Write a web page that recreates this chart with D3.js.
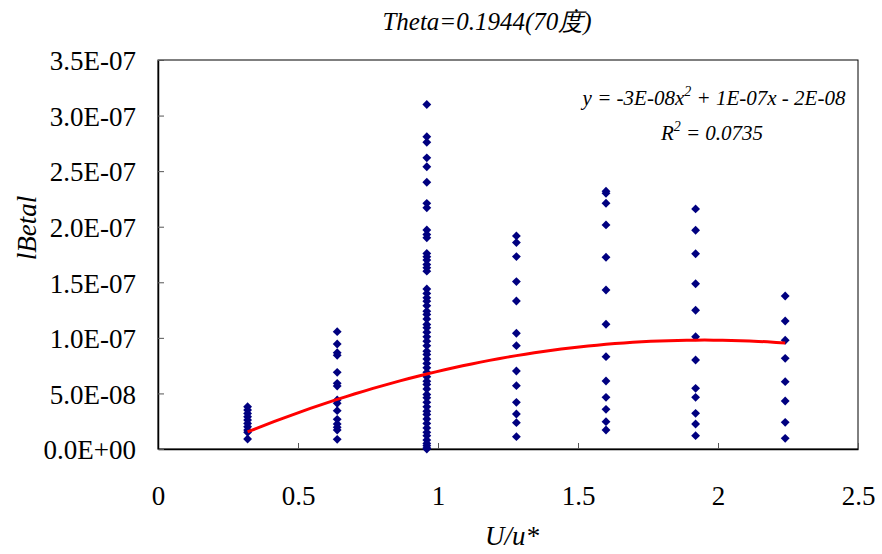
<!DOCTYPE html>
<html>
<head>
<meta charset="utf-8">
<script src="https://cdn.jsdelivr.net/npm/d3@7"></script>
<style>
  body { margin: 0; background: #fff; }
</style>
</head>
<body>
<script>
// U/u* groups and the |Beta| readings at each one (units of 1E-07)
var uGroups = [0.32, 0.64, 0.96, 1.28, 1.60, 1.92, 2.24];
var beta032 = [0.38, 0.35, 0.32, 0.29, 0.26, 0.23, 0.20, 0.17, 0.15, 0.09];
var beta064 = [1.056, 0.945, 0.867, 0.843, 0.690, 0.591, 0.567, 0.441, 0.411, 0.345, 0.267, 0.225, 0.195, 0.171, 0.087];
var beta096 = [3.10, 2.81, 2.76, 2.62, 2.54, 2.40, 2.21, 2.17, 1.97, 1.93, 1.90, 1.76, 1.73, 1.70, 1.66, 1.63, 1.60,
               1.44, 1.40, 1.36, 1.33, 1.29, 1.24, 1.21, 1.17, 1.12, 1.09, 1.05, 1.01, 0.97, 0.93, 0.88, 0.85, 0.81,
               0.77, 0.73, 0.69, 0.65, 0.61, 0.58, 0.54, 0.49, 0.46, 0.42, 0.38, 0.34, 0.31, 0.27, 0.23, 0.19, 0.15,
               0.12, 0.08, 0.05, 0.03, 0.01, 0.00];
var beta128 = [1.917, 1.857, 1.731, 1.506, 1.332, 1.041, 0.930, 0.702, 0.570, 0.420, 0.315, 0.237, 0.111];
var beta160 = [2.32, 2.30, 2.211, 2.016, 1.725, 1.431, 1.122, 0.831, 0.612, 0.465, 0.357, 0.246, 0.171];
var beta192 = [2.160, 1.968, 1.757, 1.487, 1.248, 1.010, 0.801, 0.546, 0.465, 0.321, 0.225, 0.120];
var beta224 = [1.377, 1.152, 0.978, 0.816, 0.606, 0.432, 0.240, 0.096];
var betaUnit = 1e-7;

// polynomial trendline (order 2)
var trendCoef = [-3.11e-8, 1.213e-7, -2.03e-8];   // a, b, c
var trendLabel = "y = -3E-08x", trendLabel2 = " + 1E-07x - 2E-08";
var r2Label = " = 0.0735";

var xTicks = [0, 0.5, 1, 1.5, 2, 2.5];
var xTickLabels = ["0", "0.5", "1", "1.5", "2", "2.5"];
var yTicks = [0, 0.5e-7, 1e-7, 1.5e-7, 2e-7, 2.5e-7, 3e-7, 3.5e-7];
var yTickLabels = ["0.0E+00", "5.0E-08", "1.0E-07", "1.5E-07", "2.0E-07", "2.5E-07", "3.0E-07", "3.5E-07"];

var chartTitle = "Theta=0.1944(70度)";
var xTitle = "U/u*", yTitle = "lBetal";

var width = 882, height = 554;
var plot = {left: 158, top: 60, right: 858, bottom: 449};
var serif = "Liberation Serif";

var svg = d3.select("body").append("svg")
    .attr("width", width)
    .attr("height", height);

var x = d3.scaleLinear().domain([0, 2.5]).range([plot.left, plot.right]);
var y = d3.scaleLinear().domain([0, 3.5e-7]).range([plot.bottom, plot.top]);

// build point list from the groups
var groups = [beta032, beta064, beta096, beta128, beta160, beta192, beta224];
var points = [];
groups.forEach(function(vals, i) {
  vals.forEach(function(v) { points.push({u: uGroups[i], beta: v * betaUnit}); });
});

// frame
svg.append("rect")
  .attr("x", plot.left).attr("y", plot.top)
  .attr("width", plot.right - plot.left).attr("height", plot.bottom - plot.top)
  .attr("fill", "#fff").attr("stroke", "#000").attr("stroke-width", 1);

// axes (ticks point inward)
var xAxis = d3.axisBottom(x).tickValues(xTicks)
    .tickFormat(function(d, i) { return xTickLabels[i]; })
    .tickSizeInner(-6).tickSizeOuter(0).tickPadding(39);
var gx = svg.append("g").attr("transform", "translate(0," + plot.bottom + ")").call(xAxis)
    .attr("font-family", serif).attr("font-size", 27);
gx.select(".domain").attr("stroke-width", 1.5);
gx.selectAll(".tick line").attr("stroke", "#555");
gx.selectAll(".tick text").attr("font-family", serif).attr("dy", "0.62em");

var yAxis = d3.axisLeft(y).tickValues(yTicks)
    .tickFormat(function(d, i) { return yTickLabels[i]; })
    .tickSizeInner(-6).tickSizeOuter(0).tickPadding(22);
var gy = svg.append("g").attr("transform", "translate(" + plot.left + ",0)").call(yAxis)
    .attr("font-family", serif).attr("font-size", 27);
gy.select(".domain").attr("stroke-width", 1.5);
gy.selectAll(".tick line").attr("stroke", "#555");
gy.selectAll(".tick text").attr("font-family", serif).attr("dy", "0.36em");

// scatter
var diamond = d3.symbol().type(d3.symbolDiamond2).size(50);
svg.append("g").selectAll("path")
  .data(points)
  .enter()
  .append("path")
  .attr("d", diamond)
  .attr("fill", "#000080")
  .attr("transform", function(d) { return "translate(" + x(d.u) + "," + y(d.beta) + ")"; });

// trendline over the data range
var uMin = d3.min(uGroups), uMax = d3.max(uGroups);
var trendPts = d3.range(0, 61).map(function(i) {
  var u = uMin + (uMax - uMin) * i / 60;
  return [u, trendCoef[0] * u * u + trendCoef[1] * u + trendCoef[2]];
});
svg.append("path")
  .datum(trendPts)
  .attr("fill", "none")
  .attr("stroke", "#ff0000")
  .attr("stroke-width", 3)
  .attr("d", d3.line().x(function(d) { return x(d[0]); }).y(function(d) { return y(d[1]); }));

// equation labels
var eq = svg.append("text")
  .attr("x", 714).attr("y", 105)
  .attr("text-anchor", "middle")
  .attr("font-family", serif)
  .attr("font-size", 21).attr("font-style", "italic");
eq.append("tspan").text(trendLabel);
eq.append("tspan").attr("font-size", 14).attr("dy", -9).text("2");
eq.append("tspan").attr("dy", 9).text(trendLabel2);

var r2 = svg.append("text")
  .attr("x", 712).attr("y", 140)
  .attr("text-anchor", "middle")
  .attr("font-family", serif)
  .attr("font-size", 21).attr("font-style", "italic");
r2.append("tspan").text("R");
r2.append("tspan").attr("font-size", 14).attr("dy", -9).text("2");
r2.append("tspan").attr("dy", 9).text(r2Label);

// titles
svg.append("text")
  .attr("x", 487).attr("y", 30)
  .attr("text-anchor", "middle")
  .attr("font-family", serif)
  .attr("font-size", 25).attr("font-style", "italic")
  .text(chartTitle);

svg.append("text")
  .attr("x", 512).attr("y", 545)
  .attr("text-anchor", "middle")
  .attr("font-family", serif)
  .attr("font-size", 27).attr("font-style", "italic")
  .text(xTitle);

svg.append("text")
  .attr("transform", "translate(36,228) rotate(-90)")
  .attr("text-anchor", "middle")
  .attr("font-family", serif)
  .attr("font-size", 27).attr("font-style", "italic")
  .text(yTitle);
</script>
</body>
</html>
